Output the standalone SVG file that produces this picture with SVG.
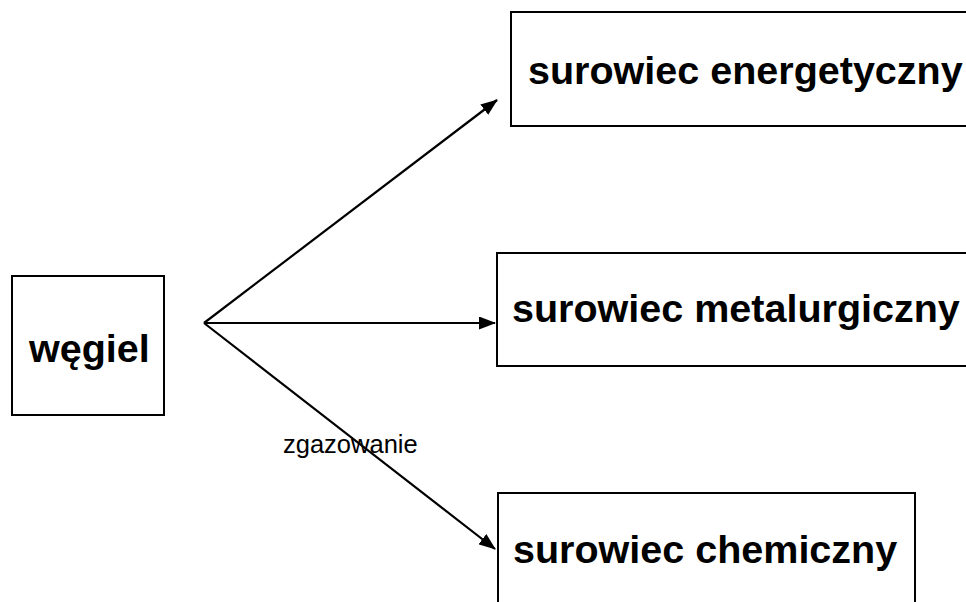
<svg xmlns="http://www.w3.org/2000/svg" width="966" height="602" viewBox="0 0 966 602">
  <style>
    .box { fill: #ffffff; stroke: #000000; stroke-width: 2; }
    .label { font-family: "Liberation Sans", Arial, sans-serif; font-weight: bold; font-size: 39.5px; fill: #000000; }
    .edge { stroke: #000000; stroke-width: 2.2; fill: none; marker-end: url(#arrow); }
    .edge-label { font-family: "Liberation Sans", Arial, sans-serif; font-size: 25.5px; fill: #000000; }
  </style>
  <defs>
    <marker id="arrow" viewBox="0 0 17 13" refX="16" refY="6.5" markerWidth="17" markerHeight="13" markerUnits="userSpaceOnUse" orient="auto">
      <path d="M0,0 L17,6.5 L0,13 Z" fill="#000000"/>
    </marker>
  </defs>
  <rect width="966" height="602" fill="#ffffff"/>

  <g id="node-wegiel">
    <rect class="box" x="12" y="276" width="152" height="139"/>
    <text class="label" x="29" y="362">węgiel</text>
  </g>

  <g id="node-energetyczny">
    <rect class="box" x="511" y="12" width="470" height="114"/>
    <text class="label" x="528" y="84">surowiec energetyczny</text>
  </g>

  <g id="node-metalurgiczny">
    <rect class="box" x="497" y="253" width="484" height="113"/>
    <text class="label" x="512" y="322">surowiec metalurgiczny</text>
  </g>

  <g id="node-chemiczny">
    <rect class="box" x="498" y="493" width="417" height="130"/>
    <text class="label" x="513" y="563">surowiec chemiczny</text>
  </g>

  <g id="connectors">
    <line class="edge" x1="204" y1="323" x2="497" y2="100"/>
    <line class="edge" x1="204" y1="323" x2="495" y2="323"/>
    <line class="edge" x1="204" y1="323" x2="495" y2="549"/>
    <text class="edge-label" x="283" y="453">zgazowanie</text>
  </g>
</svg>
